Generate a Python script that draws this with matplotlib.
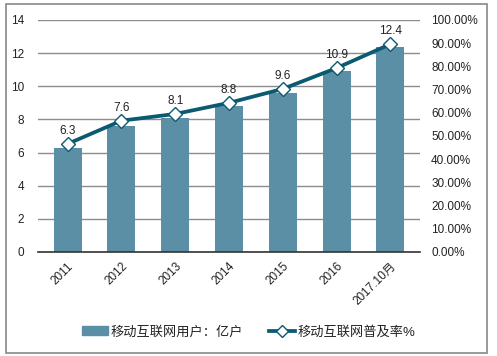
import matplotlib
matplotlib.use("Agg")
import matplotlib.pyplot as plt
from matplotlib.patches import Rectangle
from matplotlib.lines import Line2D

plt.rcParams['font.family'] = ['Liberation Sans', 'Noto Sans CJK SC', 'DejaVu Sans']

categories = ["2011", "2012", "2013", "2014", "2015", "2016", "2017.10月"]
users = [6.3, 7.6, 8.1, 8.8, 9.6, 10.9, 12.4]
rate = [0.466, 0.566, 0.595, 0.643, 0.703, 0.793, 0.896]
left_ticks = [0, 2, 4, 6, 8, 10, 12, 14]
right_ticks = [0.0, 0.1, 0.2, 0.3, 0.4, 0.5, 0.6, 0.7, 0.8, 0.9, 1.0]

bar_color = "#5B8FA6"
line_color = "#0A5A72"
text_color = "#222222"

fig = plt.figure(figsize=(4.97, 3.56), dpi=100)
fig.patches.append(Rectangle((6/497, 3/356), 481/497, 349/356, transform=fig.transFigure,
                             fill=False, edgecolor="#888888", linewidth=1.2))

ax = fig.add_axes([38/497, 104/356, 382/497, 232/356])
x = list(range(len(categories)))
ax.bar(x, users, width=0.52, color=bar_color, zorder=2)
ax.set_ylim(0, 14)
ax.set_yticks(left_ticks)
ax.set_xlim(-0.55, len(categories) - 0.45)
ax.set_xticks(x)
ax.set_xticklabels(categories, rotation=45, ha="right", rotation_mode="anchor", fontsize=8.5, color=text_color)
ax.tick_params(axis="y", labelsize=8.5, colors=text_color, length=0, pad=10)
ax.tick_params(axis="x", length=0, pad=6)
ax.grid(axis="y", color="#8C8C8C", linewidth=1, zorder=0)
ax.set_axisbelow(True)
for s in ["top", "left", "right"]:
    ax.spines[s].set_visible(False)
ax.spines["bottom"].set_color("#333333")
ax.spines["bottom"].set_linewidth(1.2)

ax2 = ax.twinx()
ax2.plot(x, rate, color=line_color, linewidth=2.7, marker="D", markersize=7.5,
         markerfacecolor="white", markeredgecolor=line_color, markeredgewidth=1, zorder=3)
ax2.set_ylim(0, 1)
ax2.set_yticks(right_ticks)
ax2.set_yticklabels([f"{v*100:.2f}%" for v in right_ticks])
ax2.tick_params(axis="y", labelsize=8.5, colors=text_color, length=0, pad=8)
for s in ["top", "left", "right", "bottom"]:
    ax2.spines[s].set_visible(False)
for xi, r, u in zip(x, rate, users):
    ax2.annotate(f"{u}", (xi, r), xytext=(0, 5), textcoords="offset points",
                 ha="center", va="bottom", fontsize=8.5, color=text_color, zorder=4)

handles = [Rectangle((0, 0), 1, 1, color=bar_color),
           Line2D([0], [0], color=line_color, linewidth=2.7, marker="D", markersize=6,
                  markerfacecolor="white", markeredgecolor=line_color)]
labels = ["移动互联网用户：亿户", "移动互联网普及率%"]
fig.legend(handles, labels, loc="center", bbox_to_anchor=(0.5, 24/356), ncol=2,
           frameon=False, fontsize=9.5, handlelength=2.0, handletextpad=0.15,
           columnspacing=2.0, labelcolor=text_color)

fig.savefig("out.png", dpi=100)
